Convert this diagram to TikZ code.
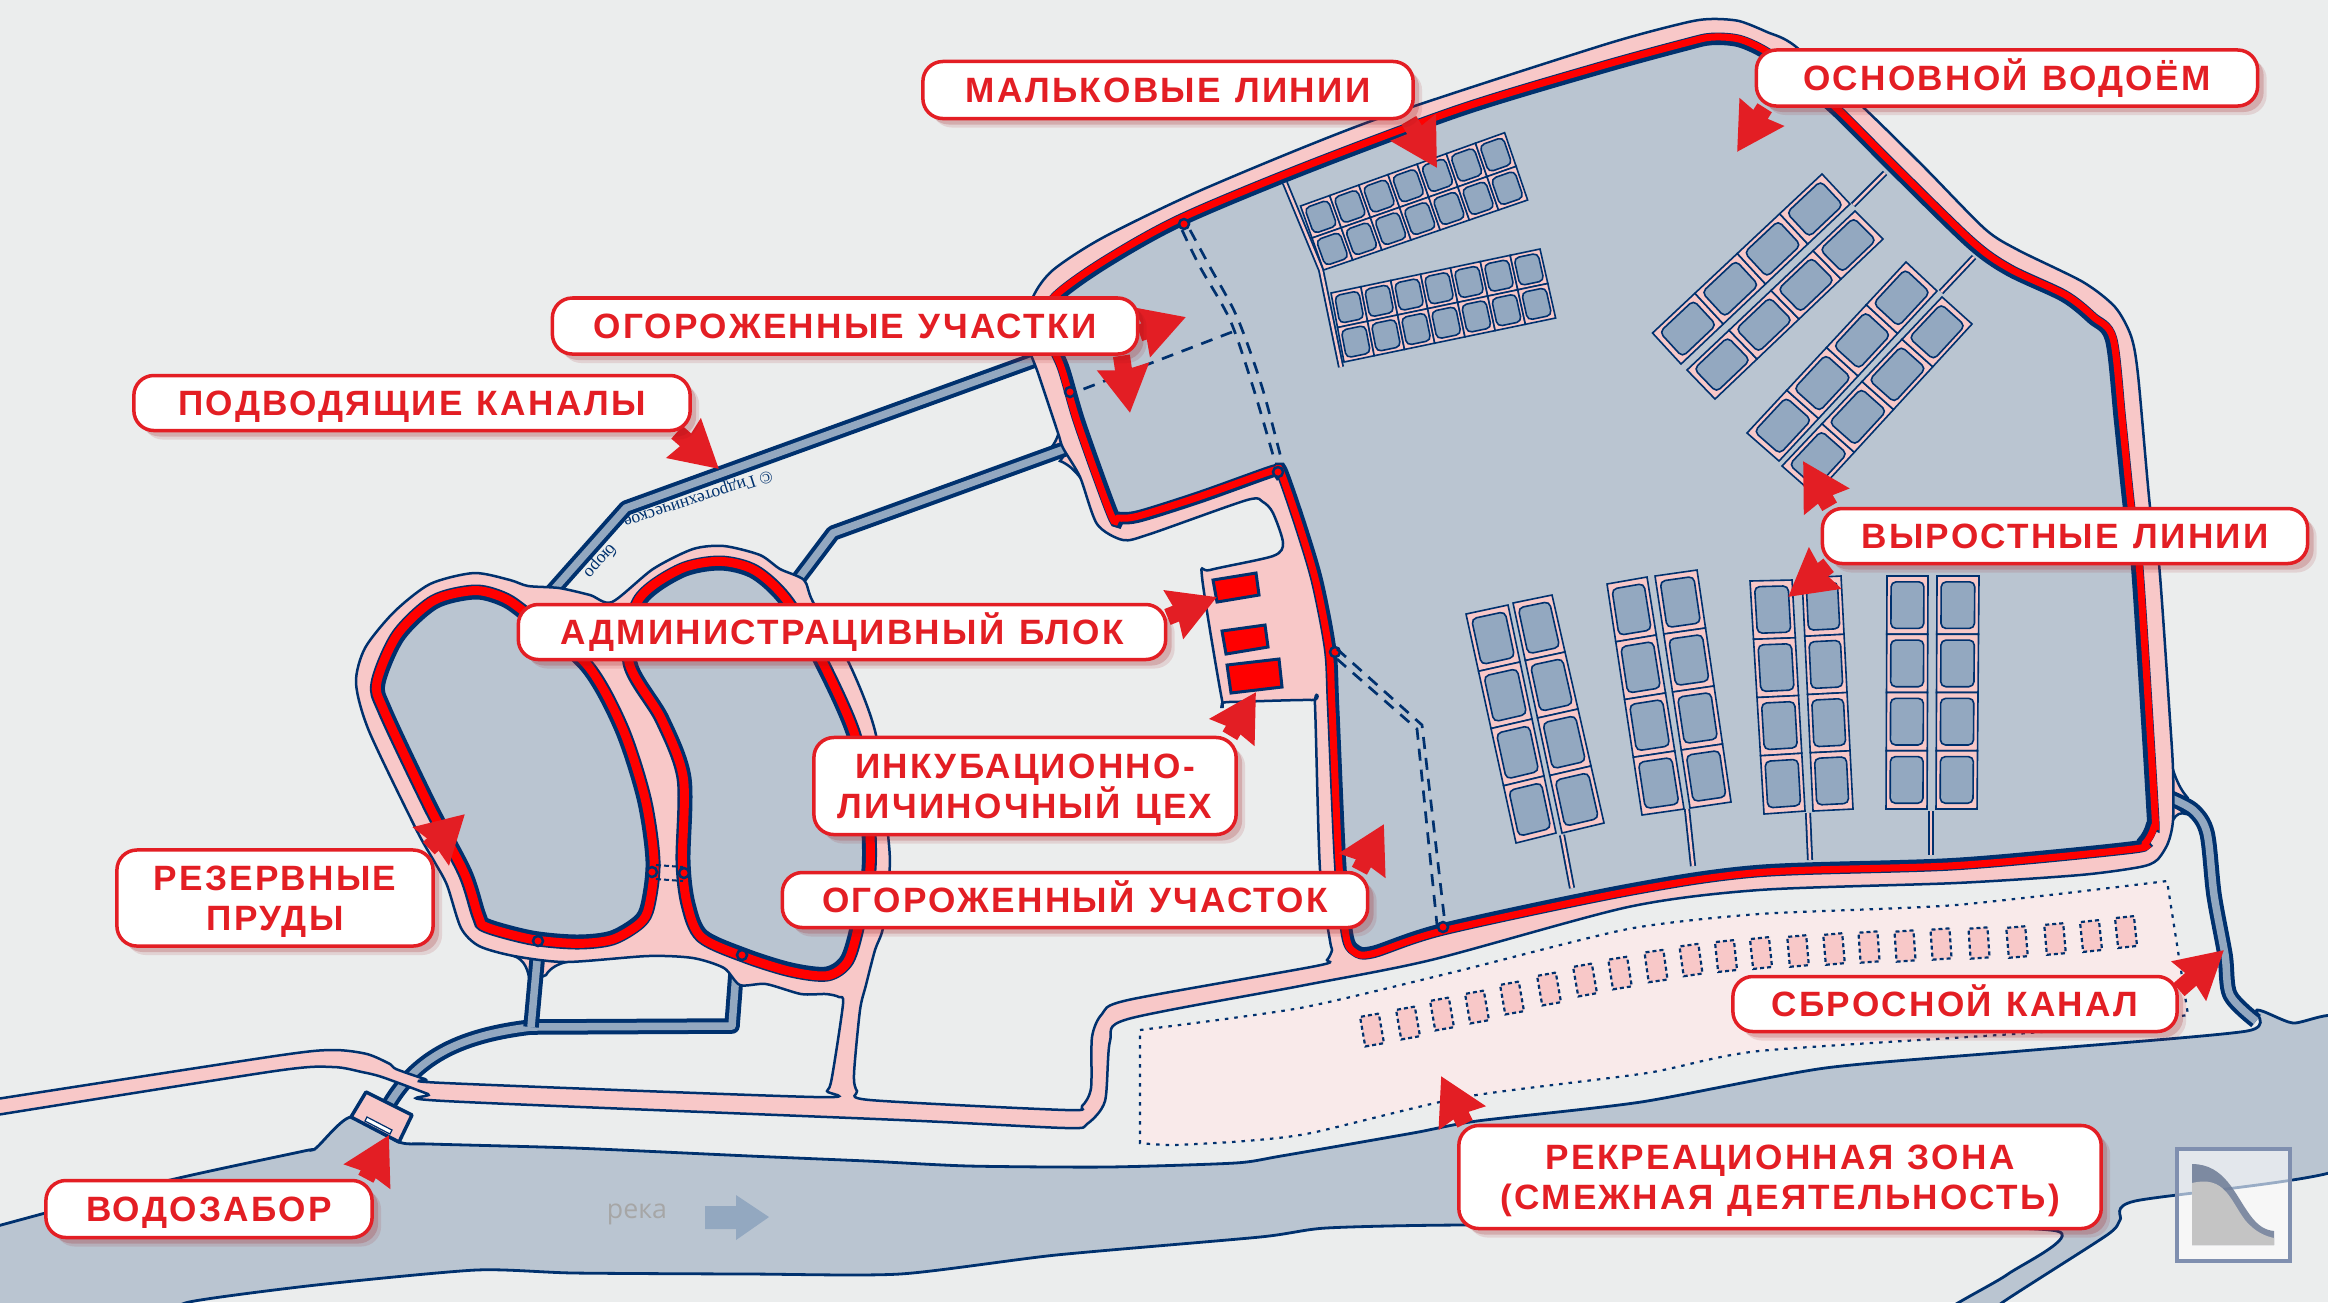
\documentclass[tikz,border=0pt]{standalone}
\usepackage{fontspec}
\usetikzlibrary{arrows.meta, calc, shadows}
\newfontfamily\lblfont[LetterSpace=6.5,WordSpace=1.2]{Liberation Sans}
\newfontfamily\riverfont{Open Sans}
\newfontfamily\markfont{Liberation Serif}
\definecolor{fishBg}{HTML}{EBEDED}
\definecolor{fishWater}{HTML}{BAC5D1}
\definecolor{fishDike}{HTML}{F8C8C8}
\definecolor{fishCell}{HTML}{93A8C0}
\definecolor{fishNavy}{HTML}{00316E}
\definecolor{fishLine}{HTML}{FF0000}
\definecolor{fishLabel}{HTML}{E31E24}
\definecolor{fishZone}{HTML}{F9EAEA}
\definecolor{fishLogo}{HTML}{7F8FAF}
\pgfdeclarelayer{labels}
\pgfsetlayers{main,labels}
% one line of a label, centred on its capitals
\newcommand{\capl}[1]{\rule{0pt}{7.3pt}\smash{#1}}
% grid of cells: corners a,b,c,d, then columns and rows
\newcommand{\gridpt}[2]{($($(ga)!#1!(gb)$)!#2!($(gd)!#1!(gc)$)$)}
\newcommand{\fishgrid}[6]{
  \coordinate (ga) at (#1); \coordinate (gb) at (#2);
  \coordinate (gc) at (#3); \coordinate (gd) at (#4);
  \foreach \i in {1,...,#5} \foreach \j in {1,...,#6} {
    \pgfmathsetmacro{\ua}{(\i-1)/#5} \pgfmathsetmacro{\ub}{\i/#5}
    \pgfmathsetmacro{\va}{(\j-1)/#6} \pgfmathsetmacro{\vb}{\j/#6}
    \pgfmathsetmacro{\uc}{\ua+.1/#5} \pgfmathsetmacro{\ud}{\ub-.1/#5}
    \pgfmathsetmacro{\vc}{\va+.1/#6} \pgfmathsetmacro{\vd}{\vb-.1/#6}
    \filldraw[cellfrm] \gridpt{\ua}{\va} -- \gridpt{\ub}{\va} -- \gridpt{\ub}{\vb} -- \gridpt{\ua}{\vb} -- cycle;
    \filldraw[cellin] \gridpt{\uc}{\vc} -- \gridpt{\ud}{\vc} -- \gridpt{\ud}{\vd} -- \gridpt{\uc}{\vd} -- cycle;
  }
}
\def\mainpond{plot[smooth cycle,tension=.5] coordinates {(1045,325) (1056,298) (1104,263) (1181,220) (1308,167) (1461,110) (1600,68) (1684,45) (1711,39) (1739,41) (1767,54) (1800,80) (1837,111) (1897,171) (1971,243) (2009,270) (2064,296) (2092,318) (2111,339) (2120,420) (2129,507) (2137,564) (2152,800) (2152,825) (2143,842) (2128,848) (1956,864) (1759,871) (1628,890) (1444,929) (1373,952) (1355,950) (1347,934) (1340,863) (1333,706) (1330,649) (1317,581) (1300,524) (1282,472) (1278,471) (1270,472) (1200,497) (1140,516) (1120,518) (1113,515) (1080,424) (1063,367)}}
\def\leftpond{plot[smooth cycle,tension=.5] coordinates {(378,683) (398,636) (434,602) (474,592) (501,598) (523,612) (586,665) (621,727) (644,798) (653,861) (648,905) (639,922) (612,938) (577,942) (532,938) (487,926) (479,916) (465,873) (430,806) (385,711)}}
\def\rightpond{plot[smooth cycle,tension=.5] coordinates {(639,602) (680,571) (720,563) (755,572) (787,602) (822,663) (854,735) (867,806) (869,869) (858,924) (847,960) (827,974) (791,970) (746,956) (702,936) (688,904) (683,861) (684,778) (662,719) (630,663)}}
\begin{document}
\begin{tikzpicture}[x=.01cm, y=-.01cm,
    lbl/.style={draw=fishLabel, line width=.035cm, fill=white, rounded corners=.2cm, text=fishLabel, align=center, inner sep=0pt,
      font=\lblfont\bfseries\fontsize{10}{11.4}\selectfont,
      drop shadow={shadow xshift=.09cm, shadow yshift=-.09cm, fill=fishLabel!70!black, opacity=.12},
      drop shadow={shadow xshift=.06cm, shadow yshift=-.06cm, fill=fishLabel!70!black, opacity=.2}},
    callout/.style={-{Stealth[length=.46cm,width=.5cm,inset=.03cm]}, fishLabel, line width=.17cm},
    canal/.style={draw=fishNavy, double=fishCell, double distance=.075cm, line width=.04cm, line join=round},
    feeder/.style={draw=fishNavy, double=fishDike, double distance=.025cm, line width=.018cm},
    dike/.style={draw=fishNavy, line width=.025cm, fill=fishDike},
    cellfrm/.style={draw=fishNavy, line width=.016cm, fill=fishDike},
    cellin/.style={draw=fishNavy, line width=.016cm, fill=fishCell, rounded corners=.05cm},
    pondnavy/.style={draw=fishNavy, fill=fishWater},
    pondred/.style={draw=fishLine},
    fence/.style={fishNavy, line width=.027cm, dash pattern=on .12cm off .09cm},
    plot/.style={draw=fishNavy, line width=.03cm, fill=fishLine},
    recbox/.style={draw=fishNavy, line width=.022cm, fill=fishDike, dash pattern=on .04cm off .03cm, minimum width=.19cm, minimum height=.3cm, inner sep=0pt},
    gate/.style={fill=fishLine, draw=fishNavy, line width=.025cm}]
  \path[use as bounding box] (0,0) rectangle (2328,1302);
  \clip (0,0) rectangle (2328,1302);
  \fill[fishBg] (0,0) rectangle (2328,1302);
  % river
  \filldraw[draw=fishNavy, line width=.028cm, fill=fishWater] plot[smooth,tension=.4] coordinates {(-10,1228) (166,1181) (304,1151) (316,1148) (351,1117) (399,1142) (430,1144) (574,1148) (750,1156) (867,1161) (969,1166) (1107,1167) (1235,1163) (1281,1156) (1413,1133) (1477,1121) (1641,1102) (1825,1068) (2021,1051) (2247,1031) (2257,1010) (2293,1023) (2338,1018) (2345,1100) (2338,1170) (2135,1201) (2120,1220) (2107,1235) (2003,1302) (1985,1320) (1945,1312) (2008,1274) (2057,1231) (1800,1226) (1462,1225) (1326,1228) (1260,1237) (1056,1255) (900,1274) (750,1274) (574,1273) (476,1270) (316,1285) (189,1302) (150,1320) (-10,1320) (-20,1270)} -- cycle;
  % zone
  \filldraw[draw=fishNavy, line width=.022cm, fill=fishZone, dash pattern=on .035cm off .06cm] (1140,1030) -- plot[smooth,tension=.4] coordinates {(1140,1030) (1300,1008) (1454,972) (1628,929) (1759,914) (1956,905) (2167,881)} -- (2188,1015) -- plot[smooth,tension=.4] coordinates {(2188,1015) (2041,1032) (1759,1051) (1647,1073) (1464,1097) (1311,1133) (1245,1141) (1173,1145) (1140,1143)} -- cycle;
  \foreach \x/\y/\a in {1372/1030/10,1408/1023/10,1442/1014/10,1477/1007/10,1512/998/10,1549/989/10,1585/980/10,1620/973/9,1656/966/8,1691/960/8,1726/956/6,1761/953/6,1798/951/5,1834/949/5,1869/947/4,1905/946/4,1941/944/4,1979/943/4,2017/942/5,2055/939/5,2091/936/6,2126/932/6} {
    \node[recbox, rotate=\a] at (\x,\y) {};
  }
  % flares where canals meet the dikes
  \filldraw[dike] (2173,770) .. controls (2177,782) and (2181,790) .. (2187,797) -- (2172,802) -- cycle;
  \filldraw[dike] (2173,820) .. controls (2176,814) and (2181,812) .. (2186,814) -- (2172,804) -- cycle;
  \filldraw[dike] (1046,452) .. controls (1052,448) and (1056,442) .. (1059,432) -- (1068,450) -- cycle;
  \filldraw[dike] (1060,461) .. controls (1068,464) and (1074,470) .. (1079,476) -- (1068,450) -- cycle;
  \filldraw[dike] (514,956) .. controls (525,960) and (528,970) .. (530,982) -- (546,975) .. controls (550,968) and (558,964) .. (566,962) -- cycle;
  % canals
  \draw[canal] (1040,358) -- (626,508) -- (540,605);
  \draw[canal] (1070,447) -- (833,533) -- (790,590);
  \draw[canal] (388,1106) .. controls (415,1060) and (455,1036) .. (531,1027) -- (732,1026) -- (737,960);
  \draw[canal] (531,1027) -- (538,950);
  \draw[canal] plot[smooth,tension=.5] coordinates {(2168,797) (2193,810) (2207,833) (2214,895) (2225,955) (2230,995) (2256,1021)};
  % dikes and road
  \filldraw[dike] plot[smooth,tension=.45] coordinates {(-10,1100) (275,1056) (333,1050) (367,1054) (390,1064) (396,1069) (425,1079) (445,1083) (815,1097) (827,1091) (832,1077) (843,1004) (839,997) (826,994) (801,994) (766,984) (740,985) (724,968) (693,958) (648,956) (566,962) (514,956) (479,946) (461,928) (447,885) (434,861) (416,829) (369,731) (356,683) (365,648) (394,612) (430,584) (474,573) (510,580) (528,586) (559,588) (590,595) (612,602) (653,569) (693,549) (724,546) (760,555) (780,569) (804,580) (813,602) (849,663) (876,735) (889,845) (889,877) (883,928) (875,950) (866,985) (860,1010) (854,1074) (857,1091) (870,1100) (1066,1110) (1082,1106) (1091,1088) (1092,1037) (1102,1014) (1128,1000) (1316,966) (1327,960) (1332,950) (1330,941) (1320,870) (1315,706) (1312,700) (1227,702) (1222,700) (1202,577) (1210,570) (1273,556) (1283,543) (1273,513) (1263,502) (1247,500) (1150,534) (1123,540) (1097,524) (1080,477) (1063,448) (1058,433) (1038,373) (1025,335) (1033,297) (1053,270) (1104,237) (1206,188) (1374,120) (1600,46) (1684,23) (1711,19) (1739,21) (1767,32) (1795,46) (1865,109) (1925,168) (1985,229) (2018,250) (2083,282) (2115,307) (2131,336) (2138,375) (2150,507) (2159,564) (2170,720) (2173,770) (2173,820) (2168,843) (2157,860) (2140,867) (2080,875) (1956,883) (1759,890) (1628,907) (1431,960) (1300,986) (1128,1019) (1110,1041) (1105,1101) (1087,1124) (1066,1128) (900,1120) (445,1101) (428,1094) (382,1077) (362,1072) (333,1067) (275,1071) (-10,1116)} -- cycle;
  % intake
  \filldraw[draw=fishNavy, line width=.035cm, fill=fishDike, line join=round] (366,1092) -- (412,1115) -- (399,1142) -- (351,1117) -- cycle;
  \filldraw[draw=fishNavy, line width=.012cm, fill=white] (367,1117) -- (392,1130) -- (390,1134) -- (365,1121) -- cycle;
  % ponds
  \filldraw[pondnavy, line width=.125cm] \mainpond;
  \draw[pondred, line width=.07cm, scale around={1.004:(1600,500)}] \mainpond;
  \filldraw[pondnavy, line width=.15cm] \leftpond;
  \draw[pondred, line width=.09cm, scale around={1.008:(515,770)}] \leftpond;
  \filldraw[pondnavy, line width=.15cm] \rightpond;
  \draw[pondred, line width=.09cm, scale around={1.008:(760,770)}] \rightpond;
  \foreach \x/\y in {1184/224,1278/472,1335/652,1443/927,1070/392,538/941,742/955,652/872,684/873} {
    \filldraw[gate] (\x,\y) circle (.05cm);
  }
  \draw[fence, line width=.02cm, dash pattern=on .05cm off .03cm] (656,865) -- (683,867);
  \draw[fence, line width=.02cm, dash pattern=on .05cm off .03cm] (656,879) -- (683,881);
  % fences in the main pond
  \draw[fence] plot[smooth] coordinates {(1182,230) (1200,267) (1230,320) (1253,387) (1275,462)};
  \draw[fence] plot[smooth] coordinates {(1190,230) (1210,267) (1237,317) (1262,387) (1282,462)};
  \draw[fence] (1232,332) -- (1081,390);
  \draw[fence] (1337,649) -- (1422,725) -- (1445,924);
  \draw[fence] (1337,659) -- (1417,729) -- (1437,925);
  % fry lines
  \draw[feeder] (1285,183) -- (1321,270) -- (1341,367);
  \fishgrid{1300.5,206}{1504.6,132.7}{1527.6,200}{1323.5,270}{7}{2}
  \fishgrid{1331,293}{1540,249}{1555.6,318}{1344,362}{7}{2}
  % growing lines
  \draw[feeder] (1885,173) -- (1853,205);
  \draw[feeder] (1974,257) -- (1941,292);
  \fishgrid{1652.5,333}{1822,174}{1850,204}{1681,364}{4}{1}
  \fishgrid{1687,370}{1855,211}{1883,239}{1715,399}{4}{1}
  \fishgrid{1747,433}{1906,262}{1937,291}{1779,461}{4}{1}
  \fishgrid{1782,466}{1942,297}{1972,324}{1815,495}{4}{1}
  \draw[feeder] (1562,835) -- (1572,888);
  \draw[feeder] (1687,809) -- (1693,866);
  \draw[feeder] (1808,813) -- (1810,860);
  \draw[feeder] (1931,811) -- (1931,855);
  \fishgrid{1466,614}{1508,605}{1556,833}{1516,843}{1}{4}
  \fishgrid{1513,603}{1552,595}{1604,823}{1562,833}{1}{4}
  \fishgrid{1607,584}{1647,577}{1684,809}{1642,815}{1}{4}
  \fishgrid{1655,576}{1697,570}{1731,802}{1690,808}{1}{4}
  \fishgrid{1750,581}{1792,580}{1805,811}{1764,814}{1}{4}
  \fishgrid{1802,578}{1841,576}{1853,809}{1813,811}{1}{4}
  \fishgrid{1887,576}{1928,576}{1927,809}{1886,809}{1}{4}
  \fishgrid{1937,576}{1979,576}{1977,809}{1936,809}{1}{4}
  % hatchery blocks
  \filldraw[plot] (1213,580) -- (1256,573) -- (1259,595) -- (1217,602) -- cycle;
  \filldraw[plot] (1222,631) -- (1265,625) -- (1268,647) -- (1226,654) -- cycle;
  \filldraw[plot] (1227,665) -- (1279,659) -- (1282,687) -- (1231,693) -- cycle;
  % river mark
  \node[text=black!35, font=\riverfont\fontsize{7.6}{9}\selectfont, inner sep=0pt] (reka) at (637,1214) {река};
  \fill[fishCell] (705,1206) -- (736,1206) -- (736,1195) -- (769,1217) -- (736,1240) -- (736,1229) -- (705,1229) -- cycle;
  \node[text=fishNavy, font=\markfont\fontsize{5}{6}\selectfont, rotate=198, inner sep=0pt] (copymark) at (698,498) {© Гидротехническое};
  \node[text=fishNavy, font=\markfont\fontsize{5}{6}\selectfont, rotate=228, inner sep=0pt] (bureau) at (600,561) {бюро};
  % logo
  \fill[white, opacity=.6] (2177,1149) rectangle (2290,1261);
  \draw[fishLogo, line width=.035cm] (2177,1149) rectangle (2290,1261);
  \fill[fishLogo!85!black, opacity=.85] (2192,1164) .. controls (2225,1164) and (2235,1195) .. (2250,1215) .. controls (2258,1226) and (2265,1230) .. (2274,1231) -- (2274,1245) -- (2192,1245) -- cycle;
  \fill[black!23] (2192,1183) .. controls (2225,1175) and (2230,1200) .. (2245,1220) .. controls (2255,1232) and (2265,1236) .. (2274,1238) -- (2274,1245) -- (2192,1245) -- cycle;
  % labels
  \coordinate (malktip) at (1437,168);
  \coordinate (osnovtip) at (1737,152);
  \coordinate (ogoratip) at (1186,317);
  \coordinate (ogorbtip) at (1130,413);
  \coordinate (podvtip) at (719,469);
  \coordinate (vyrosatip) at (1803,461);
  \coordinate (vyrosbtip) at (1788,597);
  \coordinate (admintip) at (1217,597);
  \coordinate (inkubtip) at (1256,692);
  \coordinate (ogorstip) at (1384,824);
  \coordinate (rezervtip) at (465,814);
  \coordinate (vodotip) at (389,1135);
  \coordinate (sbrostip) at (2224,950);
  \coordinate (rekrtip) at (1441,1076);
  \begin{pgfonlayer}{labels}
  \node[lbl, minimum width=4.9cm, minimum height=.57cm] (malk) at (1168,90) {\capl{МАЛЬКОВЫЕ ЛИНИИ}};
  \node[lbl, minimum width=5.01cm, minimum height=.56cm] (osnov) at (2007,78) {\capl{ОСНОВНОЙ ВОДОЁМ}};
  \node[lbl, minimum width=5.85cm, minimum height=.56cm] (ogor) at (845,326) {\capl{ОГОРОЖЕННЫЕ УЧАСТКИ}};
  \node[lbl, minimum width=5.56cm, minimum height=.55cm] (podv) at (412,403) {\capl{ПОДВОДЯЩИЕ КАНАЛЫ}};
  \node[lbl, minimum width=4.85cm, minimum height=.55cm] (vyros) at (2065,536) {\capl{ВЫРОСТНЫЕ ЛИНИИ}};
  \node[lbl, minimum width=6.47cm, minimum height=.55cm] (admin) at (842,632) {\capl{АДМИНИСТРАЦИВНЫЙ БЛОК}};
  \node[lbl, minimum width=4.22cm, minimum height=.97cm] (inkub) at (1025,786) {\capl{ИНКУБАЦИОННО-}\\\capl{ЛИЧИНОЧНЫЙ ЦЕХ}};
  \node[lbl, minimum width=5.85cm, minimum height=.55cm] (ogors) at (1075,900) {\capl{ОГОРОЖЕННЫЙ УЧАСТОК}};
  \node[lbl, minimum width=3.16cm, minimum height=.96cm] (rezerv) at (275,898) {\capl{РЕЗЕРВНЫЕ}\\\capl{ПРУДЫ}};
  \node[lbl, minimum width=3.26cm, minimum height=.57cm] (vodo) at (209,1209) {\capl{ВОДОЗАБОР}};
  \node[lbl, minimum width=4.44cm, minimum height=.55cm] (sbros) at (1955,1004) {\capl{СБРОСНОЙ КАНАЛ}};
  \node[lbl, minimum width=6.42cm, minimum height=1.03cm] (rekr) at (1780,1177) {\capl{РЕКРЕАЦИОННАЯ ЗОНА}\\\capl{(СМЕЖНАЯ ДЕЯТЕЛЬНОСТЬ)}};
  \end{pgfonlayer}
  \draw[callout] ([xshift=-.06cm]malk.south east) -- (malktip);
  \draw[callout] ([xshift=.1cm]osnov.south west) -- (osnovtip);
  \draw[callout] ([yshift=-.07cm]ogor.east) -- (ogoratip);
  \draw[callout] ([xshift=-.18cm]ogor.south east) -- (ogorbtip);
  \draw[callout] ([xshift=-.15cm]podv.south east) -- (podvtip);
  \draw[callout] ([xshift=.09cm]vyros.north west) -- (vyrosatip);
  \draw[callout] ([xshift=.08cm]vyros.south west) -- (vyrosbtip);
  \draw[callout] ([yshift=.15cm]admin.east) -- (admintip);
  \draw[callout] ([xshift=-.08cm]inkub.north east) -- (inkubtip);
  \draw[callout] ([xshift=-.1cm]ogors.north east) -- (ogorstip);
  \draw[callout] ([xshift=-.06cm]rezerv.north east) -- (rezervtip);
  \draw[callout] ([xshift=-.08cm]vodo.north east) -- (vodotip);
  \draw[callout] ([yshift=-.15cm]sbros.north east) -- (sbrostip);
  \draw[callout] ([xshift=.08cm]rekr.north west) -- (rekrtip);
\end{tikzpicture}
\end{document}
